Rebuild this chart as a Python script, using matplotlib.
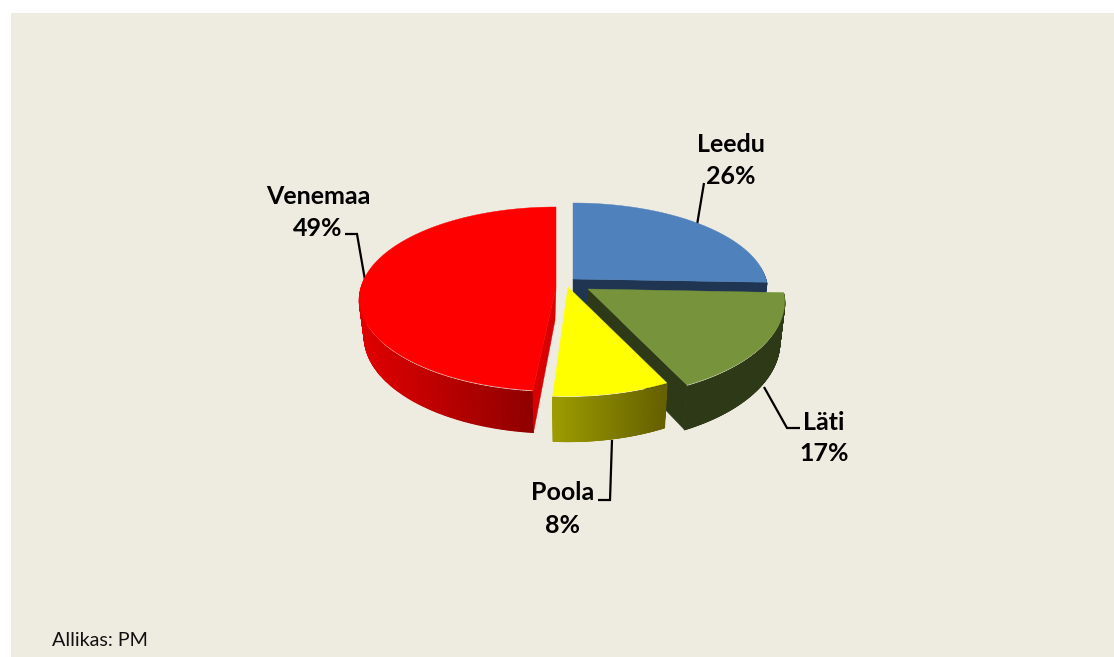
import numpy as np
import matplotlib
matplotlib.use("Agg")
import matplotlib.pyplot as plt
from matplotlib.collections import PolyCollection
from matplotlib.colors import to_rgb

# data (clockwise from 12 o'clock)
categories = ["Leedu", "Läti", "Poola", "Venemaa"]
values = [25.6, 17.0, 8.49, 48.91]
source_text = "Allikas: PM"

# styles
top_colors = ["#4f81bd", "#77933c", "#ffff00", "#ff0000"]
side_left = ["#1f3552", "#2e3a17", "#9c9c00", "#de0000"]
side_right = ["#1f3552", "#2e3a17", "#666000", "#8e0000"]
face_colors = ["#1f3552", "#2e3a17", None, "#d80000"]
apexes = [(573, 279), (588, 289), (568, 287), (556, 287)]
x_scale = [0.99, 1, 1, 1]
y_scale = [0.95, 1.05, 1.05, 1]
depths = [40, 40, 40, 37]
start_gap = [0, 0, 0, np.radians(2)]  # visual gap opened by the exploded slice
RX, RY, K = 195, 90.4, 0.13
BX, BY = 0.975, 1.05
BG = "#eeebe0"

fig = plt.figure(figsize=(11.14, 6.57), dpi=100, facecolor="white")
ax = fig.add_axes([0, 0, 1, 1])
ax.set_xlim(0, 1114)
ax.set_ylim(657, 0)
ax.axis("off")
ax.add_patch(plt.Rectangle((11, 13), 1103, 644, fc=BG, ec="none", zorder=0))


def rim(theta, apex, sx, sy, depth=0.0, sx_b=1.0, sy_b=1.0):
    u, v = np.sin(theta), np.cos(theta)
    w = 1 + K * v
    return np.column_stack([
        apex[0] + RX * u / w * sx * sx_b,
        apex[1] + depth - RY * v / w * sy * sy_b,
    ])


fractions = np.cumsum([0] + values) / sum(values) * 2 * np.pi
z = 1
for i in range(4):
    a0, a1 = fractions[i] + start_gap[i], fractions[i + 1]
    th = np.linspace(a0, a1, 241)
    apex, sx, sy, d = apexes[i], x_scale[i], y_scale[i], depths[i]
    top = rim(th, apex, sx, sy)
    bot = rim(th, apex, sx, sy, d, BX, BY)

    # outer wall with horizontal gradient (front part only, tucked under the top)
    front = np.cos(th) < 0.15
    lo, hi = bot[front, 0].min(), bot[front, 0].max()
    c0, c1 = np.array(to_rgb(side_left[i])), np.array(to_rgb(side_right[i]))
    wall_top = top + np.array([0.0, 1.5])
    quads, cols = [], []
    for j in range(len(th) - 1):
        if not (front[j] and front[j + 1]):
            continue
        quads.append([wall_top[j], wall_top[j + 1], bot[j + 1], bot[j]])
        t = np.clip((0.5 * (top[j, 0] + top[j + 1, 0]) - lo) / (hi - lo), 0, 1)
        cols.append(c0 + (c1 - c0) * t)
    ax.add_collection(PolyCollection(quads, facecolors=cols, edgecolors=cols,
                                     linewidths=0.8, zorder=z))
    z += 1

    # visible cut face
    if face_colors[i]:
        end = a1 if i != 3 else a0
        tip_t = rim(np.array([end]), apex, sx, sy)[0]
        tip_b = rim(np.array([end]), apex, sx, sy, d, BX, BY)[0]
        ax.fill([apex[0], apex[0] - (1 if i == 3 else 0), tip_b[0], tip_t[0]],
                [apex[1], apex[1] + d * (0.9 if i == 3 else 1), tip_b[1], tip_t[1]],
                color=face_colors[i], lw=0.3, zorder=z)
        z += 1

    # top surface
    poly = np.vstack([[apex], top])
    ax.fill(poly[:, 0], poly[:, 1], color=top_colors[i], lw=0.3, zorder=z)
    z += 1

# leader lines and labels
leaders = [
    [(697, 225), (704, 183)],
    [(764, 387), (787, 428), (800, 428)],
    [(612, 440), (610, 500), (598, 500)],
    [(365, 280), (357, 234), (345, 234)],
]
label_pos = [(731, 152, 184), (824, 430, 461), (563, 500, 533), (318, 204, 236)]
for path, cat, val, (x, y1, y2) in zip(leaders, categories, values, label_pos):
    p = np.array(path)
    ax.plot(p[:, 0], p[:, 1], color="black", lw=1.6, zorder=0.5,
            solid_joinstyle="miter", solid_capstyle="butt")
    for yy, s in ((y1, cat), (y2, f"{round(val)}%")):
        ax.text(x, yy, s, ha="center", va="baseline", family="Lato",
                weight="bold", fontsize=18, color="black", zorder=50)

ax.text(52, 646, source_text, ha="left", va="baseline", family="Lato",
        fontsize=14.2, color="#111111", zorder=50)

fig.savefig("out.png", dpi=100, facecolor="white")
